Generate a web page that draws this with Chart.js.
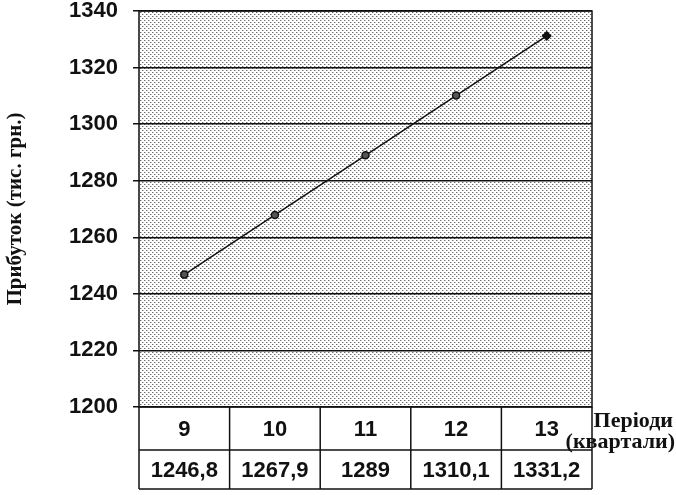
<!DOCTYPE html>
<html>
<head>
<meta charset="utf-8">
<script src="https://cdn.jsdelivr.net/npm/chart.js@4/dist/chart.umd.min.js"></script>
<style>
  html, body { margin: 0; padding: 0; background: #fff; }
  #wrap { width: 676px; height: 495px; position: relative; }
</style>
</head>
<body>
<div id="wrap"><canvas id="myChart" width="676" height="495"></canvas></div>
<script>
// periods (quarters) and forecast profit values
var periods = ['9', '10', '11', '12', '13']
var profit = [1246.8, 1267.9, 1289, 1310.1, 1331.2]
var yTicks = [1200, 1220, 1240, 1260, 1280, 1300, 1320, 1340]

var yTitle = 'Прибуток (тис. грн.)'
var xTitle1 = 'Періоди'
var xTitle2 = '(квартали)'

// dotted fill like the scanned plot area
function makePattern(ctx) {
    var c = document.createElement('canvas')
    c.width = 4
    c.height = 4
    var p = c.getContext('2d')
    p.fillStyle = '#ffffff'
    p.fillRect(0, 0, 4, 4)
    p.fillStyle = '#6a6a6a'
    p.fillRect(0, 0, 1, 1)
    p.fillRect(2, 2, 1, 1)
    p.fillStyle = '#c4c4c4'
    p.fillRect(1, 0, 1, 1)
    p.fillRect(3, 2, 1, 1)
    return ctx.createPattern(c, 'repeat')
}

var tableFont = 'bold 22px "Liberation Sans", Arial, sans-serif'

var areaPlugin = {
    id: 'plotArea',
    beforeDraw: function (chart) {
        var ctx = chart.ctx, a = chart.chartArea
        ctx.save()
        ctx.fillStyle = makePattern(ctx)
        ctx.fillRect(a.left, a.top, a.right - a.left, a.bottom - a.top)
        ctx.restore()
    },
    afterDraw: function (chart) {
        var ctx = chart.ctx, a = chart.chartArea
        var xs = chart.scales.x
        var row1 = a.bottom + 43
        var row2 = a.bottom + 82
        ctx.save()
        ctx.strokeStyle = '#111'
        ctx.lineWidth = 1.5
        // frame of the plot
        ctx.strokeRect(a.left, a.top, a.right - a.left, a.bottom - a.top)
        // table borders
        var bounds = [a.left]
        for (var i = 0; i < periods.length - 1; i++) {
            bounds.push((xs.getPixelForValue(i) + xs.getPixelForValue(i + 1)) / 2)
        }
        bounds.push(a.right)
        ctx.beginPath()
        ctx.moveTo(a.left, row1); ctx.lineTo(a.right, row1)
        ctx.moveTo(a.left, row2); ctx.lineTo(a.right, row2)
        for (var b of bounds) {
            ctx.moveTo(b, a.bottom); ctx.lineTo(b, row2)
        }
        ctx.stroke()
        // table text
        ctx.fillStyle = '#111'
        ctx.font = tableFont
        ctx.textAlign = 'center'
        ctx.textBaseline = 'middle'
        for (var j = 0; j < periods.length; j++) {
            var cx = xs.getPixelForValue(j)
            ctx.fillText(periods[j], cx, (a.bottom + row1) / 2 + 1)
            ctx.fillText(String(profit[j]).replace('.', ','), cx, (row1 + row2) / 2 + 1)
        }
        // axis caption at the right of the table
        ctx.font = 'bold 22px "Liberation Serif", "Times New Roman", serif'
        ctx.textAlign = 'right'
        ctx.fillText(xTitle1, 673, a.bottom + 14)
        ctx.fillText(xTitle2, 675, a.bottom + 35)
        ctx.restore()
    }
}

var ctx = document.getElementById('myChart').getContext('2d')
new Chart(ctx, {
    type: 'line',
    data: {
        labels: periods,
        datasets: [{
            data: profit,
            borderColor: '#111',
            borderWidth: 1.5,
            pointRadius: [3.5, 3.5, 3.5, 3.5, 4],
            pointStyle: ['circle', 'circle', 'circle', 'circle', 'rectRot'],
            pointBackgroundColor: ['#555', '#555', '#555', '#555', '#111'],
            pointBorderColor: '#111',
            pointBorderWidth: 1.5,
            fill: false,
            tension: 0
        }]
    },
    options: {
        responsive: false,
        animation: false,
        layout: { padding: { top: 0, right: 84, bottom: 88, left: 0 } },
        plugins: { legend: { display: false }, tooltip: { enabled: false } },
        scales: {
            x: {
                display: false,
                offset: true
            },
            y: {
                min: 1200,
                max: 1340,
                afterBuildTicks: function (scale) {
                    scale.ticks = yTicks.map(function (v) { return { value: v } })
                },
                afterFit: function (scale) {
                    scale.width = 139
                    scale.paddingTop = 11
                },
                border: { display: false },
                grid: {
                    color: '#111',
                    lineWidth: 1.5,
                    tickLength: 6,
                    drawTicks: true
                },
                ticks: {
                    padding: 15,
                    color: '#111',
                    callback: function (v) { return String(v) },
                    font: { family: '"Liberation Sans", Arial, sans-serif', size: 22, weight: 'bold', lineHeight: 1 }
                },
                title: {
                    display: true,
                    text: yTitle,
                    color: '#111',
                    padding: { top: 3, bottom: 0 },
                    font: { family: '"Liberation Serif", "Times New Roman", serif', size: 21, weight: 'bold' }
                }
            }
        }
    },
    plugins: [areaPlugin]
})
</script>
</body>
</html>
